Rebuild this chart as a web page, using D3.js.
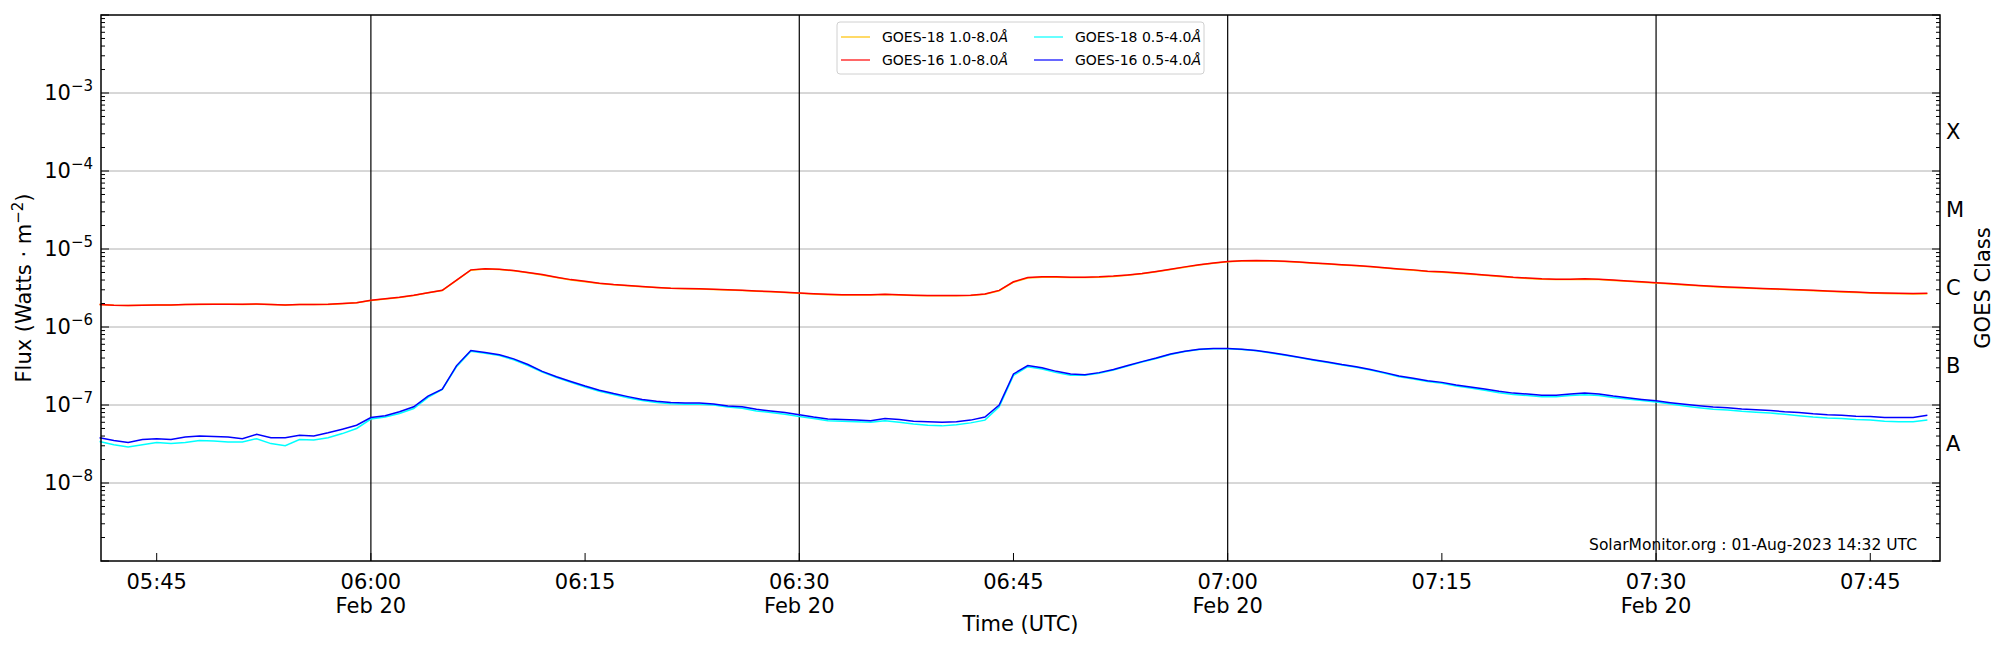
<!DOCTYPE html>
<html><head><meta charset="utf-8">
<script src="https://cdn.jsdelivr.net/npm/d3@7"></script>
<style>body{margin:0;background:#fff}text{font-family:"DejaVu Sans",sans-serif}</style>
</head><body><svg id="c" width="2000" height="650"></svg>
<script>
const startTime = "2023-02-20T05:41:00Z";
const goes16Long = [1.95,1.9,1.88,1.9,1.92,1.92,1.95,1.96,1.96,1.96,1.96,1.97,1.95,1.92,1.95,1.94,1.96,2.0,2.05,
2.2,2.3,2.4,2.55,2.75,2.95,4.0,5.4,5.6,5.5,
5.3,5.0,4.7,4.35,4.05,3.85,3.65,3.5,3.4,3.3,
3.22,3.15,3.12,3.1,3.05,3.0,2.95,2.9,2.85,2.78,
2.72,2.66,2.62,2.6,2.6,2.6,2.63,2.6,2.56,2.54,
2.53,2.53,2.55,2.65,2.95,3.8,4.3,4.4,4.4,4.35,
4.35,4.4,4.5,4.65,4.85,5.15,5.5,5.9,6.3,6.6,
6.9,7.05,7.1,7.05,6.95,6.8,6.6,6.45,6.3,6.15,
5.95,5.75,5.55,5.4,5.2,5.1,4.95,4.8,4.65,4.5,
4.35,4.25,4.15,4.1,4.1,4.15,4.1,4.0,3.9,3.8,
3.7,3.6,3.5,3.4,3.32,3.25,3.2,3.15,3.1,3.05,
3.0,2.95,2.9,2.85,2.8,2.75,2.72,2.7,2.68,2.7]; // x1e-6
const goes18Long = [1.94,1.9,1.88,1.9,1.91,1.92,1.94,1.95,1.96,1.96,1.95,1.96,1.95,1.92,1.94,1.94,1.95,1.99,2.04,
2.19,2.29,2.39,2.54,2.74,2.94,3.95,5.35,5.55,5.45,
5.25,4.95,4.65,4.3,4.0,3.8,3.62,3.48,3.38,3.28,
3.2,3.13,3.1,3.08,3.03,2.98,2.93,2.88,2.83,2.76,
2.7,2.64,2.6,2.58,2.58,2.58,2.61,2.58,2.54,2.52,
2.51,2.51,2.53,2.63,2.92,3.75,4.25,4.35,4.35,4.3,
4.3,4.35,4.45,4.6,4.8,5.1,5.45,5.85,6.25,6.55,
6.85,7.0,7.05,7.0,6.9,6.75,6.55,6.4,6.25,6.1,
5.9,5.7,5.5,5.35,5.15,5.05,4.9,4.75,4.6,4.45,
4.3,4.2,4.1,4.06,4.06,4.1,4.06,3.96,3.86,3.76,
3.66,3.56,3.46,3.37,3.29,3.22,3.17,3.12,3.07,3.02,
2.97,2.92,2.87,2.82,2.77,2.72,2.69,2.67,2.65,2.67]; // x1e-6
const goes16Short = [3.8,3.5,3.3,3.6,3.7,3.6,3.9,4.0,3.95,3.9,3.7,4.2,3.8,3.8,4.1,4.0,4.4,4.9,5.5,
6.9,7.3,8.2,9.5,13,16,32,50,47,44,
39,33,27,23,20,17.5,15.5,14,12.8,11.8,
11.2,10.8,10.6,10.6,10.3,9.7,9.5,8.8,8.4,8.0,
7.5,7.0,6.6,6.5,6.4,6.3,6.7,6.5,6.2,6.1,
6.0,6.1,6.4,7.0,10,25,32,30,27,25,
24.5,26,28.5,32,36,40,45,49,52,53,
53,52,50,47,44,41,38,35.5,33,31,
28.5,26,23.5,22,20.5,19.5,18,17,16,15,
14.2,13.8,13.3,13.3,13.8,14.2,13.8,13,12.4,11.8,
11.3,10.7,10.2,9.8,9.4,9.2,8.9,8.7,8.5,8.2,
8.0,7.7,7.5,7.4,7.2,7.1,6.9,6.9,6.9,7.4]; // x1e-8
const goes18Short = [3.4,3.1,2.9,3.1,3.3,3.2,3.3,3.5,3.45,3.35,3.35,3.7,3.2,3.0,3.6,3.55,3.8,4.3,5.0,
6.6,7.0,7.8,9.0,12.5,15.8,31,49,46,43,
38,32,26.5,22.5,19.5,17,15,13.6,12.4,11.4,
10.8,10.4,10.2,10.2,10.0,9.4,9.1,8.4,8.0,7.6,
7.1,6.7,6.3,6.2,6.1,6.0,6.3,6.0,5.7,5.5,
5.4,5.6,5.9,6.4,9.5,24,31,29,26,24,
24,25.5,28,31.5,35.5,39.5,44.5,48.5,51.5,52.5,
52.5,51.5,49.5,46.5,43.5,40.5,37.5,35,32.5,30.5,
28,25.5,23,21.5,20,19,17.5,16.5,15.5,14.4,
13.6,13.2,12.8,12.8,13.2,13.5,13.2,12.5,11.9,11.4,
10.9,10.3,9.7,9.2,8.8,8.6,8.3,8.1,7.9,7.6,
7.3,7.0,6.8,6.7,6.5,6.4,6.2,6.1,6.1,6.4]; // x1e-8
const yTickExps = [-3,-4,-5,-6,-7,-8];
const classLabels = ["X","M","C","B","A"];
const classLevels = [-3.5,-4.5,-5.5,-6.5,-7.5];
const xTickTimes = ["05:45","06:00","06:15","06:30","06:45","07:00","07:15","07:30","07:45"];
const dayLines = ["06:00","06:30","07:00","07:30"];
const legendItems = [["GOES-18 1.0-8.0","#ffc200"],["GOES-16 1.0-8.0","#ff0000"],["GOES-18 0.5-4.0","#00ffff"],["GOES-16 0.5-4.0","#0000ff"]];

const svg = d3.select("#c");
const L=101,R=1940,T=15,B=561;
const FS=21;
const t0 = new Date(startTime);
const tAt = s => new Date("2023-02-20T"+s+":00Z");
const x = d3.scaleUtc().domain([new Date("2023-02-20T05:41:06Z"), new Date("2023-02-20T07:49:53Z")]).range([L,R]);
const y = d3.scaleLog().domain([1e-9,1e-2]).range([B,T]);
const times = goes16Long.map((_,i)=>new Date(+t0 + i*60000));

yTickExps.forEach(e=>svg.append("line").attr("x1",L).attr("x2",R).attr("y1",y(10**e)).attr("y2",y(10**e)).attr("stroke","#b0b0b0").attr("stroke-width",1));
dayLines.forEach(s=>svg.append("line").attr("x1",x(tAt(s))).attr("x2",x(tAt(s))).attr("y1",T).attr("y2",B).attr("stroke","#000").attr("stroke-width",1.2));

const line = (arr,sc)=>d3.line().x((d,i)=>x(times[i])).y(d=>y(d*sc))(arr);
[[goes18Long,1e-6,"#ffc200"],[goes16Long,1e-6,"#ff0000"],[goes18Short,1e-8,"#00ffff"],[goes16Short,1e-8,"#0000ff"]].forEach(([a,s,c])=>
  svg.append("path").attr("d",line(a,s)).attr("fill","none").attr("stroke",c).attr("stroke-width",1.5));

svg.append("rect").attr("x",L).attr("y",T).attr("width",R-L).attr("height",B-T).attr("fill","none").attr("stroke","#000").attr("stroke-width",1.5);

const minor=[];
for(let e=-9;e<-2;e++) for(let m=2;m<10;m++) minor.push(m*10**e);
const major=d3.range(-9,-1).map(e=>10**e);
[L,R].forEach((X0,k)=>{const dir=k===0?1:-1;
  major.forEach(v=>svg.append("line").attr("x1",X0).attr("x2",X0+dir*8).attr("y1",y(v)).attr("y2",y(v)).attr("stroke","#000"));
  minor.forEach(v=>svg.append("line").attr("x1",X0).attr("x2",X0+dir*4).attr("y1",y(v)).attr("y2",y(v)).attr("stroke","#000"));
});
yTickExps.forEach(e=>{const tx=svg.append("text").attr("x",L-8).attr("y",y(10**e)+7).attr("text-anchor","end").attr("font-size",FS);
  tx.append("tspan").text("10");tx.append("tspan").attr("dy",-9).attr("font-size",15).text("\u2212"+(-e));});
classLabels.forEach((c,i)=>svg.append("text").attr("x",R+6).attr("y",y(10**classLevels[i])+7).attr("font-size",FS).text(c));

xTickTimes.forEach(s=>{const xx=x(tAt(s));
  svg.append("line").attr("x1",xx).attr("x2",xx).attr("y1",B).attr("y2",B-8).attr("stroke","#000");
  svg.append("text").attr("x",xx).attr("y",B+28).attr("text-anchor","middle").attr("font-size",FS).text(s);
  if(dayLines.includes(s)) svg.append("text").attr("x",xx).attr("y",B+52).attr("text-anchor","middle").attr("font-size",FS).text("Feb 20");
});
svg.append("text").attr("x",(L+R)/2).attr("y",631).attr("text-anchor","middle").attr("font-size",FS).text("Time (UTC)");
const yl=svg.append("text").attr("transform",`translate(31,${(T+B)/2}) rotate(-90)`).attr("text-anchor","middle").attr("font-size",FS);
yl.append("tspan").text("Flux (Watts \u00b7 m");yl.append("tspan").attr("dy",-8).attr("font-size",15).text("\u22122");yl.append("tspan").attr("dy",8).text(")");
svg.append("text").attr("transform",`translate(1990,${(T+B)/2}) rotate(-90)`).attr("text-anchor","middle").attr("font-size",FS).text("GOES Class");
svg.append("text").attr("x",1917).attr("y",550).attr("text-anchor","end").attr("font-size",15.5).text("SolarMonitor.org : 01-Aug-2023 14:32 UTC");

const lg=svg.append("g");
lg.append("rect").attr("x",837).attr("y",22).attr("width",367).attr("height",52).attr("rx",3).attr("fill","#fff").attr("stroke","#d0d0d0");
legendItems.forEach(([lab,c],i)=>{const col=Math.floor(i/2),row=i%2;const lx=841+col*193, ly=37+row*23;
  lg.append("line").attr("x1",lx).attr("x2",lx+29).attr("y1",ly).attr("y2",ly).attr("stroke",c).attr("stroke-width",1.2);
  const t=lg.append("text").attr("x",lx+41).attr("y",ly+5).attr("font-size",14);
  t.append("tspan").text(lab);t.append("tspan").attr("font-style","italic").text("\u00c5");});
</script></body></html>
